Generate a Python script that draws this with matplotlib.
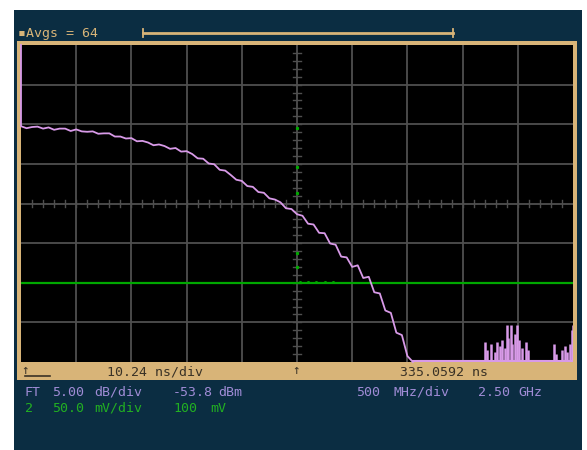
import matplotlib
matplotlib.use("Agg")
import matplotlib.pyplot as plt
from matplotlib.patches import Rectangle
import numpy as np

# ---- screen data (divisions: x 0..10, y 0..8) ----
trace_y = [8.00, 5.95, 5.90, 5.93, 5.94, 5.89, 5.92, 5.86, 5.89, 5.89, 5.83,
           5.87, 5.82, 5.81, 5.82, 5.76, 5.77, 5.77, 5.69, 5.69, 5.64,
           5.65, 5.57, 5.58, 5.54, 5.47, 5.49, 5.45, 5.38, 5.40, 5.31,
           5.32, 5.25, 5.14, 5.13, 5.01, 4.99, 4.85, 4.83, 4.72, 4.60,
           4.57, 4.44, 4.42, 4.29, 4.27, 4.13, 4.10, 4.03, 3.88, 3.86,
           3.73, 3.69, 3.49, 3.47, 3.26, 3.25, 2.99, 2.96, 2.66, 2.64,
           2.40, 2.44, 2.12, 2.15, 1.76, 1.73, 1.30, 1.24, 0.74, 0.68,
           0.15, 0.00]
trace_x = [0.0] + list(np.round(np.arange(0, 7.15, 0.1), 2))

spike_x = [8.40, 8.45, 8.52, 8.58, 8.62, 8.68, 8.72, 8.76, 8.80, 8.83, 8.87,
           8.90, 8.95, 8.99, 9.03, 9.08, 9.15, 9.18, 9.66, 9.70, 9.80, 9.86,
           9.90, 9.95, 9.98, 10.0]
spike_h = [0.50, 0.30, 0.45, 0.25, 0.50, 0.40, 0.55, 0.35, 0.93, 0.60, 0.93,
           0.45, 0.70, 0.93, 0.55, 0.35, 0.50, 0.30, 0.45, 0.20, 0.30, 0.40,
           0.25, 0.45, 0.80, 0.93]

green_level = 2.0
green_marks = [5.90, 4.92, 4.26, 2.75, 2.39]

NAVY = "#0b2d42"
TAN = "#d8b478"
PURPLE = "#d89ae8"
PTEXT = "#a08cd6"
GREEN = "#00a800"
GTEXT = "#22b022"
GRID = "#4f4f4f"

W, H = 587, 450
fig = plt.figure(figsize=(W / 100, H / 100), dpi=100)
fig.patch.set_facecolor("white")


def fx(x):
    return x / W


def fy(y):
    return 1 - y / H


fig.add_artist(Rectangle((fx(14), 0), fx(582) - fx(14), fy(10), transform=fig.transFigure,
                         facecolor=NAVY, edgecolor="none", zorder=-3))
fig.add_artist(Rectangle((fx(17), fy(380)), fx(577) - fx(17), fy(41) - fy(380),
                         transform=fig.transFigure, facecolor=TAN, edgecolor="none", zorder=-2))

ax = fig.add_axes([fx(21), fy(362), fx(573) - fx(21), fy(45) - fy(362)])
ax.set_facecolor("black")
ax.set_xlim(0, 10)
ax.set_ylim(0, 8)
ax.set_xticks([])
ax.set_yticks([])
for s in ax.spines.values():
    s.set_visible(False)

for i in range(1, 10):
    ax.axvline(i, color=GRID, lw=1.3, zorder=1)
for j in range(1, 8):
    ax.axhline(j, color=GRID, lw=1.3, zorder=1)

# centre axis minor ticks
for k in range(1, 50):
    t = k * 0.2
    ax.plot([t, t], [3.9, 4.1], color=GRID, lw=1.0, zorder=1)
for k in range(1, 40):
    t = k * 0.2
    ax.plot([4.93, 5.07], [t, t], color=GRID, lw=1.0, zorder=1)

ax.axhline(green_level, color=GREEN, lw=1.6, zorder=2)
ax.plot([5.0] * len(green_marks), green_marks, ls="none", marker="s", ms=1.3,
        color=GREEN, zorder=3)
ax.plot([5.05, 5.2, 5.35, 5.5, 5.65], [green_level + 0.03] * 5, ls="none",
        marker="s", ms=1.0, color=GREEN, zorder=3)

ax.plot(trace_x, trace_y, color=PURPLE, lw=1.3, zorder=4, clip_on=False)
ax.plot([7.1, 10.0], [0.03, 0.03], color=PURPLE, lw=1.5, zorder=4)
ax.vlines(spike_x, 0, spike_h, color=PURPLE, lw=1.8, zorder=4)

# header
mono = "DejaVu Sans Mono"
fig.text(fx(18), fy(33), "\u25aaAvgs = 64", color=TAN, fontsize=9.5, family=mono,
         va="center", ha="left")
fig.add_artist(plt.Line2D([fx(143), fx(453)], [fy(33), fy(33)], color=TAN, lw=2,
                          transform=fig.transFigure))
for xe in (143, 453):
    fig.add_artist(plt.Line2D([fx(xe), fx(xe)], [fy(29), fy(37)], color=TAN, lw=1.3,
                              transform=fig.transFigure))

# bottom bar
BTXT = "#3a3226"
fig.text(fx(21), fy(371), "\u2191", color=BTXT, fontsize=9, family=mono, va="center")
fig.add_artist(plt.Line2D([fx(25), fx(50)], [fy(376), fy(376)], color=BTXT, lw=1.2,
                          transform=fig.transFigure))
fig.text(fx(107), fy(372), "10.24 ns/div", color=BTXT, fontsize=9.5, family=mono,
         va="center")
fig.text(fx(292), fy(371), "\u2191", color=BTXT, fontsize=9, family=mono, va="center")
fig.text(fx(400), fy(372), "335.0592 ns", color=BTXT, fontsize=9.5, family=mono,
         va="center")

# readouts
for x, s in [(25, "FT"), (52, "5.00"), (94, "dB/div"), (173, "-53.8"), (218, "dBm"),
             (356, "500"), (393, "MHz/div"), (478, "2.50"), (518, "GHz")]:
    fig.text(fx(x), fy(392), s, color=PTEXT, fontsize=9.5, family=mono, va="center")
for x, s in [(25, "2"), (52, "50.0"), (94, "mV/div"), (173, "100"), (210, "mV")]:
    fig.text(fx(x), fy(408), s, color=GTEXT, fontsize=9.5, family=mono, va="center")

fig.savefig("out.png", dpi=100, facecolor=fig.get_facecolor())
